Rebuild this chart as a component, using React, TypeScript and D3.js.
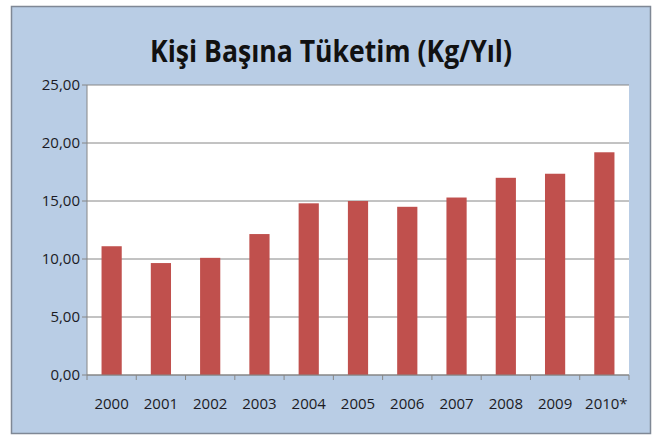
import React from "react";
import * as d3 from "d3";

const years = ["2000", "2001", "2002", "2003", "2004", "2005", "2006", "2007", "2008", "2009", "2010*"];
const consumption = [11.1, 9.65, 10.1, 12.15, 14.8, 15.0, 14.5, 15.3, 17.0, 17.35, 19.2];
const yTicks = [0, 5, 10, 15, 20, 25];
const title = "Kişi Başına Tüketim (Kg/Yıl)";

const W = 662;
const H = 440;
const plot = { left: 87, right: 629, top: 85, bottom: 375 };

const fmt = (v: number) => v.toFixed(2).replace(".", ",");

export default function App() {
  const x = d3
    .scaleBand<string>()
    .domain(years)
    .range([plot.left, plot.right])
    .paddingInner(0.59)
    .paddingOuter(0.295);
  const y = d3.scaleLinear().domain([0, 25]).range([plot.bottom, plot.top]);
  // category boundaries for tick marks on the x axis
  const bounds = d3.range(years.length + 1).map(i => plot.left + (i * (plot.right - plot.left)) / years.length);

  return (
    <svg width={W} height={H} style={{ position: "absolute", left: 0, top: 0 }}>
      <rect x={0} y={0} width={W} height={H} fill="#fff" />
      <rect x={11.5} y={6.5} width={639} height={427} fill="#B9CDE5" stroke="#7F8895" strokeWidth={1.5} />
      <text
        x={331}
        y={62}
        textAnchor="middle"
        fontFamily="Open Sans, sans-serif"
        fontWeight="bold"
        fontSize={31}
        fill="#111"
        textLength={362}
        lengthAdjust="spacingAndGlyphs"
      >
        {title}
      </text>
      <rect x={plot.left} y={plot.top} width={plot.right - plot.left} height={plot.bottom - plot.top} fill="#fff" />
      {yTicks.map(t => (
        <g key={t}>
          <line x1={plot.left - 5} x2={plot.right} y1={y(t)} y2={y(t)} stroke="#868686" strokeWidth={1} />
          <text
            x={80}
            y={y(t)}
            dy="0.35em"
            textAnchor="end"
            fontFamily="Open Sans, sans-serif"
            fontSize={15}
            fill="#1b1b24"
          >
            {fmt(t)}
          </text>
        </g>
      ))}
      {years.map((yr, i) => (
        <rect
          key={yr}
          x={x(yr)}
          y={y(consumption[i])}
          width={x.bandwidth()}
          height={y(0) - y(consumption[i])}
          fill="#C0504D"
        />
      ))}
      <line x1={plot.left} x2={plot.left} y1={plot.top} y2={plot.bottom} stroke="#868686" />
      <line x1={plot.left} x2={plot.right} y1={plot.bottom} y2={plot.bottom} stroke="#868686" />
      {bounds.map((b, i) => (
        <line key={i} x1={b} x2={b} y1={plot.bottom} y2={plot.bottom + 5} stroke="#868686" />
      ))}
      {years.map(yr => (
        <text
          key={yr}
          x={(x(yr) ?? 0) + x.bandwidth() / 2 + (yr.endsWith("*") ? 2 : 0)}
          y={409}
          textAnchor="middle"
          fontFamily="Open Sans, sans-serif"
          fontSize={15}
          fill="#1b1b24"
        >
          {yr}
        </text>
      ))}
    </svg>
  );
}
